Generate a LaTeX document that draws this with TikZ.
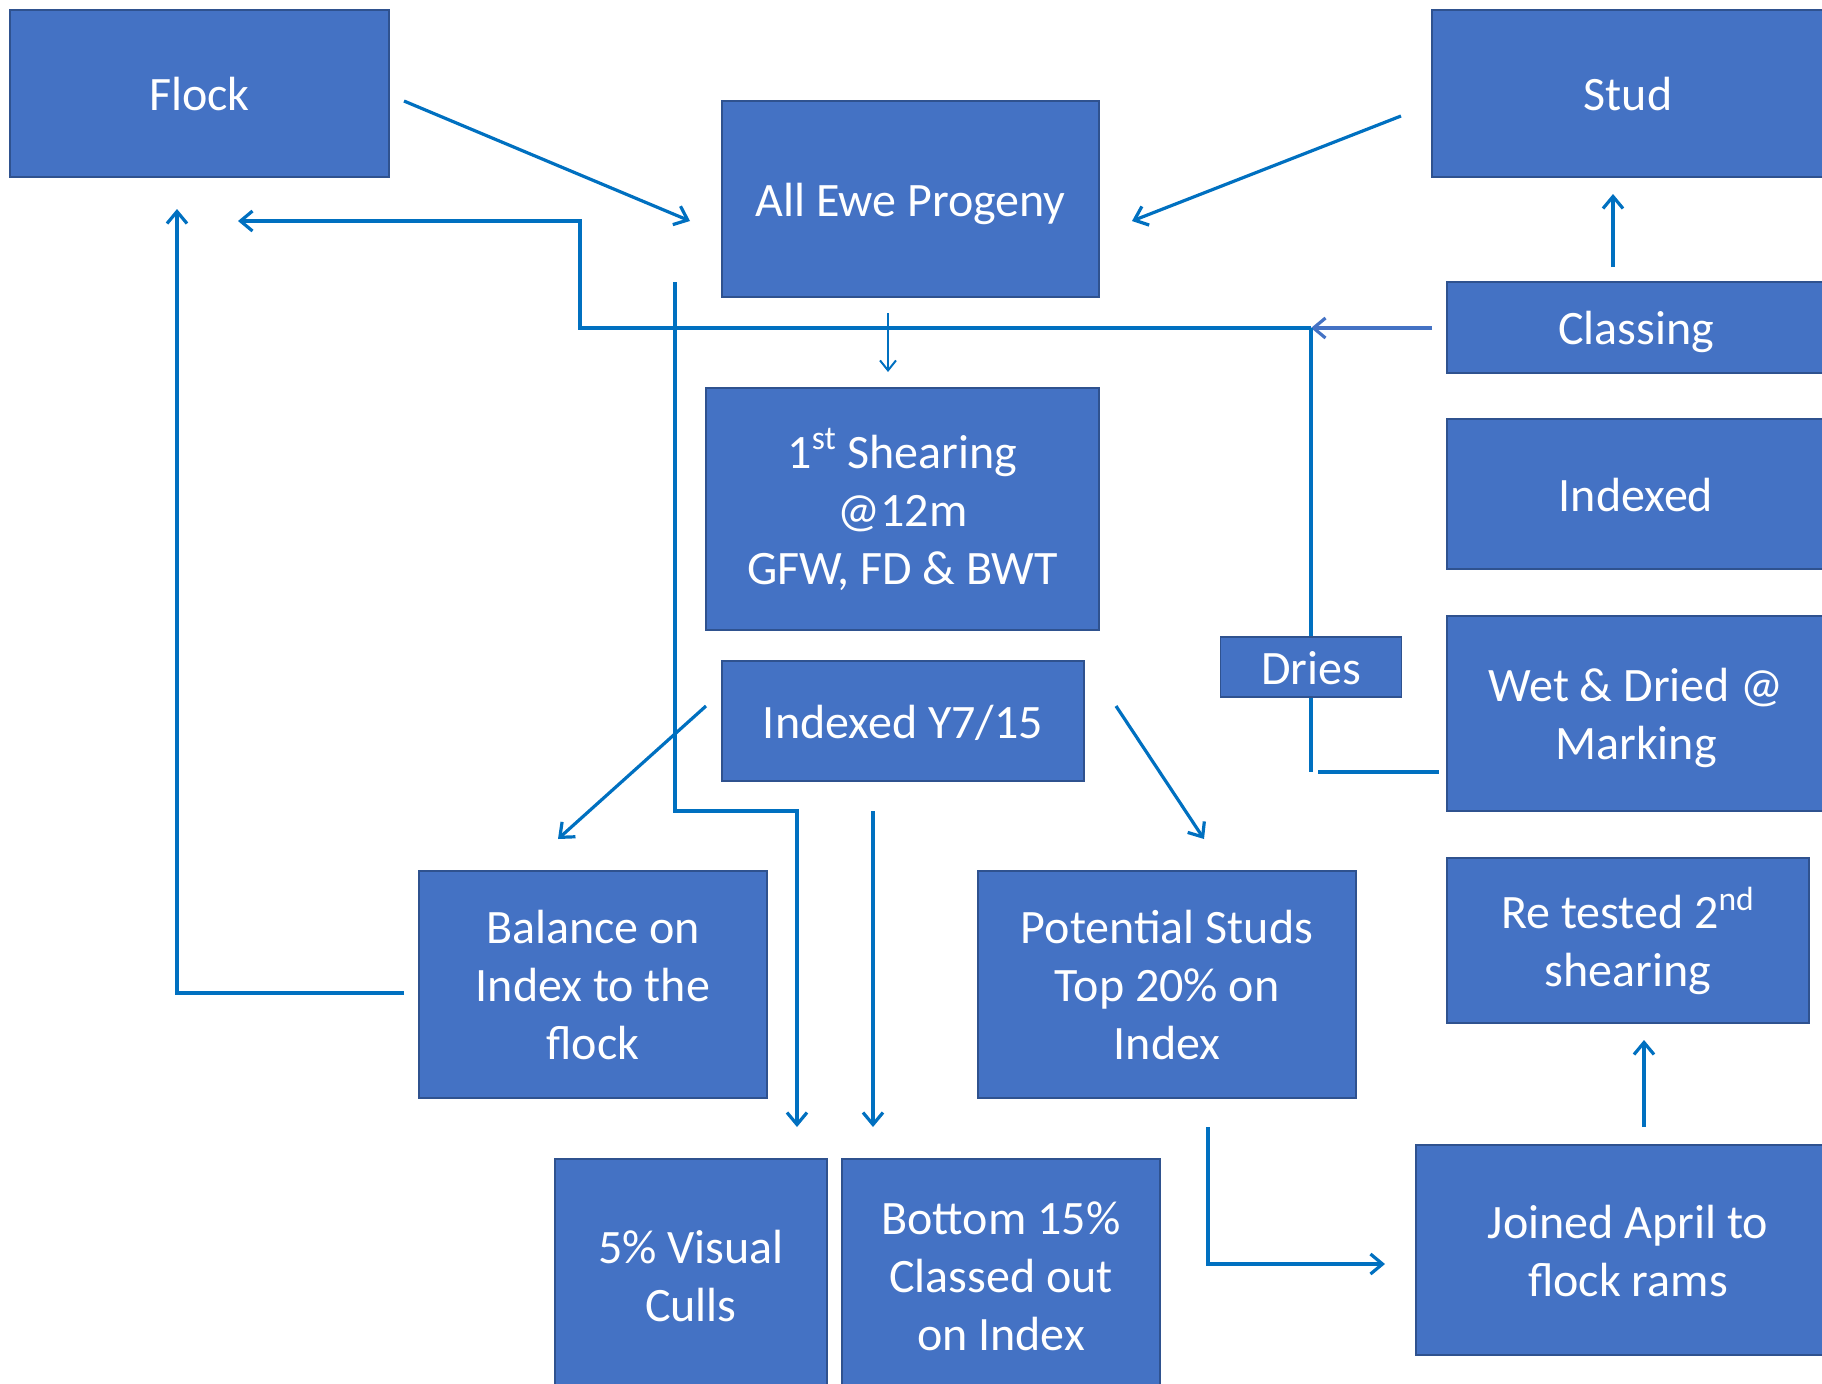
\documentclass[tikz,border=0pt]{standalone}
\usepackage{fontspec}
\setmainfont{Carlito}
\usetikzlibrary{arrows.meta}
\definecolor{boxfill}{HTML}{4472C4}
\definecolor{boxline}{HTML}{2F528F}
\definecolor{conn}{HTML}{0070C0}
\newcommand\sx{\rule[-5pt]{0pt}{27pt}}
\tikzset{
  box/.style={draw=boxline, line width=0.9pt, fill=boxfill, text=white, align=center,
    inner sep=0pt, font=\fontsize{24}{29}\selectfont},
  conn/.style={draw=conn, line width=1.6pt},
  tip/.style={-{Straight Barb[length=6pt,width=10pt,line width=1.6pt]}},
}
\begin{document}
\begin{tikzpicture}[x=0.5pt,y=-0.5pt]
\useasboundingbox (0,0) rectangle (1822,1383);
\clip (0,0) rectangle (1822,1383);
% boxes
\node[box, minimum width=189.5pt, minimum height=83.5pt] (flock) at (199.5,93.5) {\sx Flock};
\node[box, minimum width=188.5pt, minimum height=98pt] (ewe) at (910.5,199) {\sx All Ewe Progeny};
\node[box, minimum width=196pt, minimum height=83.5pt] (stud) at (1628,93.5) {\sx Stud};
\node[box, minimum width=189pt, minimum height=45.5pt] (classing) at (1636,327.5) {\sx Classing};
\node[box, minimum width=189pt, minimum height=75pt] (indexed) at (1636,494) {\sx Indexed};
\node[box, minimum width=189pt, minimum height=97.5pt] (wet) at (1636,713.5) {\sx Wet \& Dried @\\\sx Marking};
\node[box, minimum width=181pt, minimum height=82.5pt] (retest) at (1628,940.5) {\sx Re tested 2\textsuperscript{nd}\\\sx shearing};
\node[box, minimum width=212pt, minimum height=105pt] (joined) at (1628,1250) {\sx Joined April to\\\sx flock rams};
\node[box, minimum width=196.5pt, minimum height=121pt] (shear) at (902.5,509) {\sx 1\textsuperscript{st} Shearing\\\sx @12m\\\sx GFW, FD \& BWT};
\node[box, minimum width=181pt, minimum height=60pt] (idx) at (903,721) {\sx Indexed Y7/15};
\node[box, minimum width=90.5pt, minimum height=30pt] (dries) at (1311,667) {\sx Dries};
\node[box, minimum width=174pt, minimum height=113.5pt] (balance) at (593,984.5) {\sx Balance on\\\sx Index to the\\\sx flock};
\node[box, minimum width=189pt, minimum height=113.5pt] (potential) at (1167,984.5) {\sx Potential Studs\\\sx Top 20\% on\\\sx Index};
\node[box, minimum width=136pt, minimum height=116pt] (culls) at (691,1275) {\sx 5\% Visual\\\sx Culls};
\node[box, minimum width=159pt, minimum height=116pt] (bottom) at (1001,1275) {\sx Bottom 15\%\\\sx Classed out\\\sx on Index};
% free connector ends
\coordinate (flockout) at (404,101);
\coordinate (ewein1) at (690,221);
\coordinate (studout) at (1401,116);
\coordinate (ewein2) at (1132,221);
\coordinate (eweout) at (888,313);
\coordinate (shearin) at (888,372);
\coordinate (classout) at (1432,328);
\coordinate (junc) at (1311,328);
\coordinate (bend1) at (580,328);
\coordinate (bend2) at (580,221);
\coordinate (flockin1) at (238,221);
\coordinate (driesbot) at (1311,772);
\coordinate (wetout1) at (1318,772);
\coordinate (wetout2) at (1439,772);
\coordinate (vtop) at (675,282);
\coordinate (vb1) at (675,811);
\coordinate (vb2) at (797,811);
\coordinate (cullsin1) at (797,1127);
\coordinate (vtop2) at (873,811);
\coordinate (cullsin2) at (873,1127);
\coordinate (idxout1) at (706,706);
\coordinate (balin) at (558,839);
\coordinate (idxout2) at (1116,706);
\coordinate (potin) at (1204,839);
\coordinate (balout) at (404,993);
\coordinate (balbend) at (177,993);
\coordinate (flockin2) at (177,209);
\coordinate (classup1) at (1613,267);
\coordinate (studin) at (1613,194);
\coordinate (potout) at (1208,1127);
\coordinate (potbend) at (1208,1264);
\coordinate (joinin) at (1385,1264);
\coordinate (joinout) at (1644,1127);
\coordinate (retin) at (1644,1040);
% connectors
\draw[conn, tip] (flockout) -- (ewein1);
\draw[conn, tip] (studout) -- (ewein2);
\draw[conn, line width=1.1pt, -{Straight Barb[length=5pt,width=8pt,line width=1pt]}] (eweout) -- (shearin);
\draw[draw=boxfill, line width=1.8pt, tip] (classout) -- (junc);
\draw[conn, tip] (junc) -- (bend1) -- (bend2) -- (flockin1);
\draw[conn] (junc) -- (dries.north);
\draw[conn] (dries.south) -- (driesbot);
\draw[conn] (wetout1) -- (wetout2);
\draw[conn, tip] (vtop) -- (vb1) -- (vb2) -- (cullsin1);
\draw[conn, tip] (vtop2) -- (cullsin2);
\draw[conn, tip] (idxout1) -- (balin);
\draw[conn, tip] (idxout2) -- (potin);
\draw[conn, tip] (balout) -- (balbend) -- (flockin2);
\draw[conn, tip] (classup1) -- (studin);
\draw[conn, tip] (potout) -- (potbend) -- (joinin);
\draw[conn, tip] (joinout) -- (retin);
\end{tikzpicture}
\end{document}
